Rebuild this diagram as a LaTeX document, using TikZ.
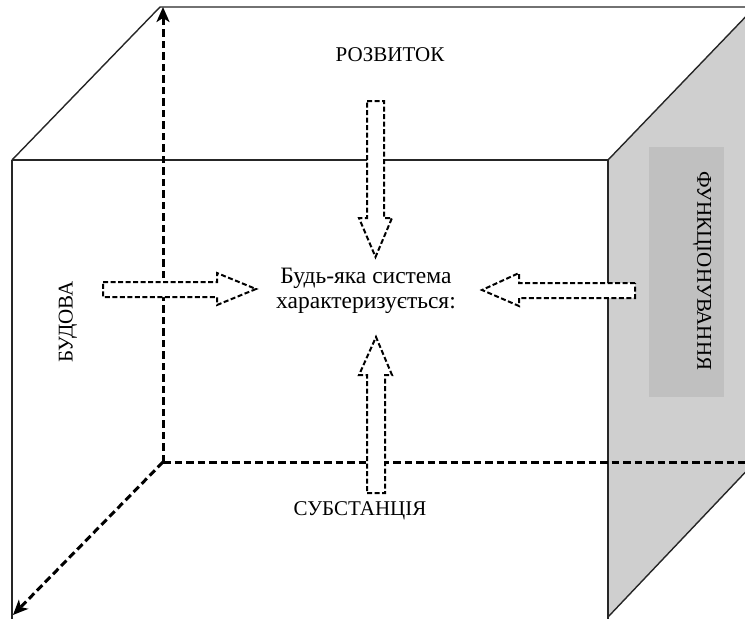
\documentclass[tikz,border=0pt]{standalone}
\usepackage{fontspec}
\setmainfont{Liberation Serif}
\usetikzlibrary{arrows.meta}
\definecolor{sideface}{RGB}{207,207,207}
\definecolor{sidelabel}{RGB}{192,192,192}
\begin{document}
\begin{tikzpicture}[x=1pt,y=-1pt,
  edge/.style={line width=1.4pt, draw=black!85},
  axis/.style={line width=3pt, dash pattern=on 7.5pt off 4pt},
  axistip/.style={-{Stealth[length=15pt,width=13pt,inset=4pt]}},
  blockarrow/.style={draw, fill=white, line width=2pt,
    dash pattern=on 5pt off 2.5pt, line join=miter},
  lbl/.style={font=\fontsize{21}{24}\selectfont, inner sep=0pt, text=black},
  mainlbl/.style={font=\fontsize{23.5}{25}\selectfont, inner sep=0pt, text=black, align=center}
]
\useasboundingbox (0,0) rectangle (745,619);
\clip (0,0) rectangle (745,619);

% cube corners
\coordinate (BTL) at (160,7);
\coordinate (BTR) at (755,7);
\coordinate (BBL) at (163,462);
\coordinate (BBR) at (755,462);
\coordinate (FTL) at (12,160);
\coordinate (FTR) at (608,160);
\coordinate (FBL) at (12,617);
\coordinate (FBR) at (608,617);

% shaded right face with its label panel
\fill[sideface] (FTR) -- (BTR) -- (BBR) -- (FBR) -- cycle;
\fill[sidelabel] (649,147) rectangle (724,397);

% solid edges
\draw[edge] (FTL) -- (BTL) -- (BTR);
\draw[edge] (FTR) -- (BTR);
\draw[edge] (FBR) -- (BBR);
\draw[edge] (FTL) -- (FTR);
\draw[edge] (FTL) -- ++(0,470);
\draw[edge] (FTR) -- ++(0,470);

% hidden edges drawn as dashed axes
\coordinate (up) at (163,7);
\coordinate (down) at (13,615);
\draw[axis, axistip] (BBL) -- (up);
\draw[axis] (BBL) -- (BBR);
\draw[axis, axistip] (BBL) -- (down);

% labels
\node[lbl] (rozvytok) at (390,55) {РОЗВИТОК};
\node[mainlbl] (system) at (366,291) {Будь-яка система\\характеризується:};
\node[lbl, rotate=90] (budova) at (68,322) {БУДОВА};
\node[lbl] (substance) at (360,511) {СУБСТАНЦІЯ};
\node[lbl, rotate=-90] (funk) at (702,271) {ФУНКЦІОНУВАННЯ};

% block arrows pointing to the central statement
\draw[blockarrow] (367,101) -- (384,101) -- (384,218) -- (392,218)
  -- (375.5,257) -- (359,218) -- (367,218) -- cycle;
\draw[blockarrow] (367,493) -- (385,493) -- (385,375) -- (392,375)
  -- (376,337) -- (359,375) -- (367,375) -- cycle;
\draw[blockarrow] (103,282) -- (217,282) -- (217,273) -- (256,289)
  -- (217,305) -- (217,297) -- (103,297) -- cycle;
\draw[blockarrow] (635,283) -- (519,283) -- (519,273) -- (482,290)
  -- (519,306) -- (519,298) -- (635,298) -- cycle;
\end{tikzpicture}
\end{document}
